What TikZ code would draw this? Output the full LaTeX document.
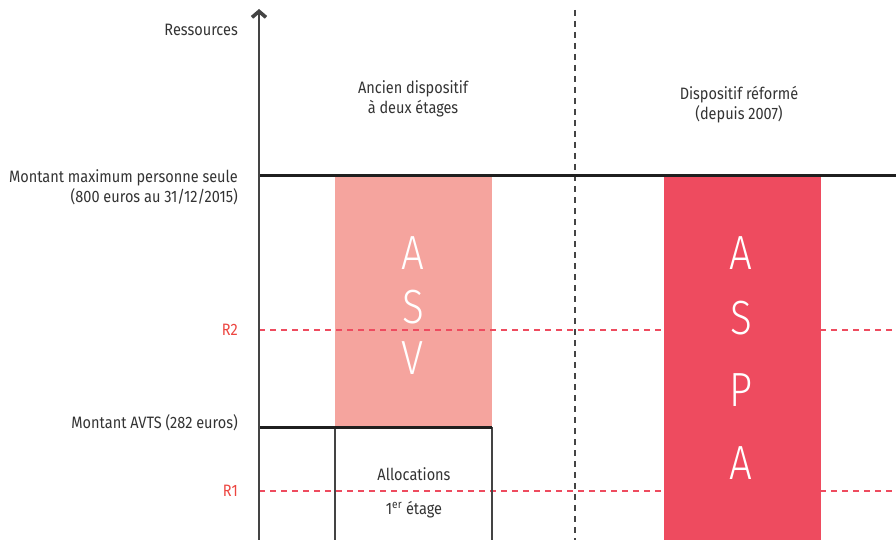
\documentclass[tikz,border=0pt]{standalone}
\usepackage{fontspec}
\setmainfont{Fira Sans}[FakeStretch=0.88]
\newfontfamily\bigletters{Fira Sans Light}[FakeStretch=0.84]
\usetikzlibrary{arrows.meta}
\definecolor{txt}{HTML}{333333}
\definecolor{linegray}{HTML}{444444}
\definecolor{asvfill}{HTML}{F5A49E}
\definecolor{aspafill}{HTML}{EE4B5F}
\definecolor{rlabel}{HTML}{EC4540}
\tikzset{
  lbl/.style={font=\fontsize{16.5}{20}\selectfont, text=txt, inner sep=0pt},
  leftlbl/.style={lbl, anchor=east, align=right},
  rlbl/.style={font=\fontsize{16.5}{20}\selectfont, text=rlabel, inner sep=0pt, anchor=east},
  bar/.style={inner sep=0pt, outer sep=0pt, anchor=north west, draw=none},
  thickline/.style={line width=3pt, draw=black!88},
  thinline/.style={line width=1.3pt, draw=linegray},
  reddash/.style={line width=1.1pt, draw=aspafill, dash pattern=on 6pt off 5pt},
  sepdash/.style={line width=1.3pt, draw=linegray, dash pattern=on 6pt off 5pt},
  letter/.style={font=\bigletters\fontsize{48}{48}\selectfont, text=white, inner sep=0pt}
}
\begin{document}
\begin{tikzpicture}[x=1pt,y=-1pt]
\useasboundingbox (0,0) rectangle (896,540);

% reference points
\coordinate (axisbot) at (259,540);
\coordinate (axistop) at (259,9);
\coordinate (maxL) at (259,176);
\coordinate (maxR) at (896,176);
\coordinate (avtsL) at (259,427);
\coordinate (avtsR) at (492,427);
\coordinate (r2L) at (259,330);
\coordinate (r2R) at (896,330);
\coordinate (r1L) at (259,491);
\coordinate (r1R) at (896,491);
\coordinate (sepT) at (575,10);
\coordinate (sepB) at (575,540);
\coordinate (allocLT) at (335,427);
\coordinate (allocLB) at (335,540);
\coordinate (allocRT) at (492,427);
\coordinate (allocRB) at (492,540);

% old scheme: ASV bar
\node[bar, fill=asvfill, minimum width=157pt, minimum height=251pt] (asv) at (335,176) {};

% resource thresholds
\draw[reddash] (r2L) -- (r2R);
\draw[reddash] (r1L) -- (r1R);

% reformed scheme: ASPA bar
\node[bar, fill=aspafill, minimum width=157pt, minimum height=364pt] (aspa) at (664,176) {};

% separator between the two schemes
\draw[sepdash] (sepT) -- (sepB);

% first-tier allocations box
\draw[thinline] (allocLT) -- (allocLB);
\draw[thinline] (allocRT) -- (allocRB);

% levels
\draw[thickline] (maxL) -- (maxR);
\draw[thickline] (avtsL) -- (avtsR);

% vertical axis
\draw[line width=1.5pt, draw=linegray, -{Straight Barb[length=6pt,width=14pt,line width=3.6pt]}] (axisbot) -- (axistop);

% axis labels
\node[leftlbl] (res) at (238,30) {Ressources};
\node[leftlbl, anchor=north east] (maxlbl) at (238,169) {Montant maximum personne seule\\(800 euros au 31/12/2015)};
\node[leftlbl] (avtslbl) at (238,423) {Montant AVTS (282 euros)};
\node[rlbl] (r2lbl) at (238,330) {R2};
\node[rlbl] (r1lbl) at (238,491) {R1};

% column titles
\node[lbl, align=center] (oldtitle) at (413,99) {Ancien dispositif\\à deux étages};
\node[lbl, align=center] (newtitle) at (739,105) {Dispositif réformé\\(depuis 2007)};

% bar letters
\node[letter] (a1) at (413,253) {A};
\node[letter] (s1) at (413,307) {S};
\node[letter] (v1) at (413,358) {V};
\node[letter] (a2) at (741,253) {A};
\node[letter] (s2) at (741,318) {S};
\node[letter] (p2) at (741,390) {P};
\node[letter] (a3) at (741,463) {A};

% allocations text
\node[lbl] (alloc) at (414,474) {Allocations};
\node[lbl] (etage) at (414,510) {1\textsuperscript{er} étage};
\end{tikzpicture}
\end{document}
